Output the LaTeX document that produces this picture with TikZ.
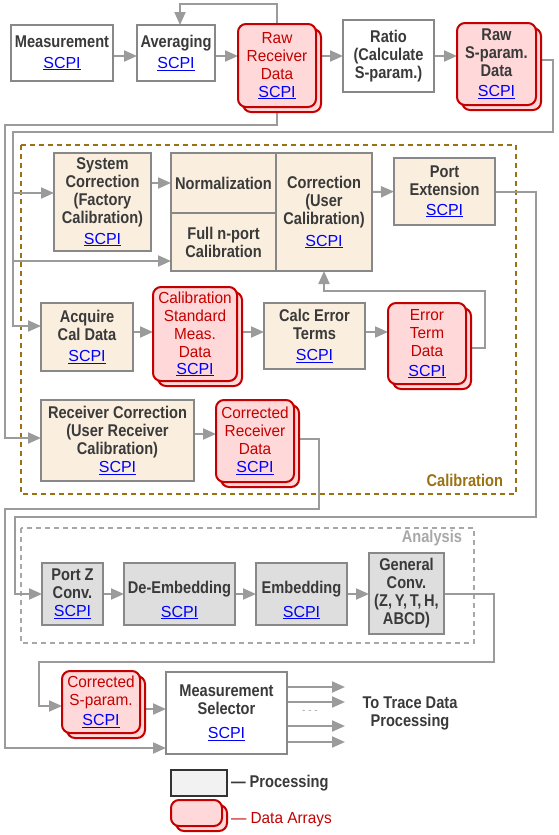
\documentclass[tikz,border=0pt]{standalone}
\usepackage{fontspec}
\setmainfont{Liberation Sans}
\newfontfamily\cnd{Liberation Sans}[FakeStretch=0.86]
\newfontfamily\cnr{Liberation Sans}[FakeStretch=0.96]
\usetikzlibrary{arrows.meta,shadows,backgrounds}
\definecolor{boxgray}{HTML}{888888}
\definecolor{arrgray}{HTML}{9B9B9B}
\definecolor{txtdark}{HTML}{3A3A3A}
\definecolor{datared}{HTML}{C40000}
\definecolor{pinkfill}{HTML}{FFD9D9}
\definecolor{beigefill}{HTML}{FAEFDF}
\definecolor{grayfill}{HTML}{DEDEDE}
\definecolor{legfill}{HTML}{F2F2F2}
\definecolor{legdark}{HTML}{333333}
\definecolor{calolive}{HTML}{9A7212}
\definecolor{anagray}{HTML}{A8A8A8}
\definecolor{linkblue}{HTML}{0000FF}
\newcommand\bfnt{\cnd\bfseries\fontsize{17}{18}\selectfont}
\newcommand\regf{\cnr\fontsize{16}{18}\selectfont}
\newcommand\myscpi{{\normalfont\fontsize{16}{18}\selectfont\color{linkblue}\setbox0\hbox{SCPI}\rlap{\rule[-2pt]{\wd0}{1.1pt}}\box0}}
\tikzset{
  every node/.style={inner sep=0pt,outer sep=0pt},
  sz/.style 2 args={minimum width=#1pt,minimum height=#2pt},
  proc/.style={draw=boxgray,line width=2pt,align=center,text=txtdark,font=\bfnt},
  procw/.style={proc,fill=white},
  procb/.style={proc,fill=beigefill},
  procg/.style={proc,fill=grayfill},
  data/.style={draw=datared,line width=2pt,fill=pinkfill,rounded corners=8pt,align=center,text=datared,font=\regf,
    copy shadow={shadow xshift=5pt,shadow yshift=-5pt,draw=datared,fill=pinkfill,line width=2pt}},
  arr/.style={draw=arrgray,line width=2pt,-{Triangle[length=13pt,width=11pt]}},
  calframe/.style={draw=calolive,line width=2pt,dash pattern=on 5pt off 4pt},
  anaframe/.style={draw=anagray,line width=2pt,dash pattern=on 5pt off 4pt},
}
\begin{document}
\begin{tikzpicture}[x=1pt,y=-1pt]
\useasboundingbox (0,0) rectangle (559,835);
% nodes
\node[procw,sz={102}{56}] (meas) at (62,53) {Measurement\\[3pt]\myscpi};
\node[procw,sz={78}{56}] (avg) at (176,53) {Averaging\\[3pt]\myscpi};
\node[data,sz={78}{83}] (rawrx) at (277,65.5) {Raw\\Receiver\\Data\\\myscpi};
\node[procw,sz={91}{72}] (ratio) at (388.5,56) {Ratio\\(Calculate\\S-param.)};
\node[data,sz={79}{82},font=\bfnt,text=txtdark] (rawsp) at (496.5,64) {Raw\\S-param.\\Data\\[2pt]\myscpi};
\node[procb,sz={97}{98}] (syscorr) at (102.5,202) {System\\Correction\\(Factory\\Calibration)\\[3pt]\myscpi};
\node[procb,sz={105}{60}] (norm) at (223.5,183) {Normalization};
\node[procb,sz={105}{58}] (fullcal) at (223.5,242) {Full n-port\\Calibration};
\node[procb,sz={96}{118}] (usercorr) at (324,212) {Correction\\(User\\Calibration)\\[4pt]\myscpi};
\node[procb,sz={101}{67}] (portext) at (444.5,191.5) {Port\\Extension\\[2pt]\myscpi};
\node[procb,sz={92}{68}] (acq) at (87,337) {Acquire\\Cal Data\\[3pt]\myscpi};
\node[data,sz={84}{94}] (calstd) at (195,334) {Calibration\\Standard\\Meas.\\Data\\[-1pt]\myscpi};
\node[procb,sz={101}{66}] (calcerr) at (314.5,336) {Calc Error\\Terms\\[3pt]\myscpi};
\node[data,sz={78}{81}] (errterm) at (427,343.5) {Error\\Term\\Data\\[2pt]\myscpi};
\node[procb,sz={153}{81}] (rxcorr) at (117.5,440.5) {Receiver Correction\\(User Receiver\\Calibration)\\\myscpi};
\node[data,sz={78}{82}] (corrrx) at (255,441) {Corrected\\Receiver\\Data\\\myscpi};
\node[procg,sz={61}{62}] (portz) at (72.5,594) {Port Z\\Conv.\\\myscpi};
\node[procg,sz={111}{62}] (deemb) at (179.5,594) {\rule{0pt}{24pt}De-Embedding\\[6pt]\myscpi};
\node[procg,sz={91}{62}] (emb) at (301.5,594) {\rule{0pt}{24pt}Embedding\\[6pt]\myscpi};
\node[procg,sz={75}{81}] (genconv) at (406.5,593.5) {General\\Conv.\\(Z,\,Y,\,T,\,H,\\ABCD)};
\node[data,sz={78}{62}] (corrsp) at (101,702) {Corrected\\S-param.\\[2pt]\myscpi};
\node[procw,sz={121}{82}] (msel) at (226.5,713) {Measurement\\Selector\\[6pt]\myscpi};
% labels
\node[font=\bfnt,text=txtdark,align=center] (totrace) at (410,713) {To Trace Data\\Processing};
\node[font=\bfnt,text=calolive,anchor=east] (callabel) at (503,480) {Calibration};
\node[font=\bfnt,text=anagray,anchor=east] (analabel) at (462,538) {Analysis};
\node[font=\fontsize{10}{10}\selectfont,text=arrgray] (dots) at (310,712) {- - -};
% legend
\node[draw=legdark,line width=2pt,fill=legfill,sz={56}{26}] (legproc) at (199,783) {};
\node[data,sz={51}{26}] (legdata) at (196.5,813) {};
\node[anchor=west,font=\bfnt,text=txtdark] (legproct) at (231,783) {— Processing};
\node[anchor=west,font=\regf,text=datared] (legdatat) at (231,820) {— Data Arrays};
% free ends
\coordinate (j1) at (13,193);
\coordinate (j2) at (13,261);
\coordinate (o1) at (345,687);
\coordinate (o2) at (345,702);
\coordinate (o3) at (345,726);
\coordinate (o4) at (345,742);
\begin{scope}[on background layer]
\draw[calframe] (21,145) rectangle (516,494);
\draw[anaframe] (21,528) rectangle (474,643);
% row 1
\draw[arr] ([yshift=-3pt]meas.east) -- ([yshift=-3pt]avg.west);
\draw[arr] ([yshift=-3pt]avg.east) -- ([yshift=9.5pt]rawrx.west);
\draw[arr] ([yshift=9.5pt]rawrx.east) -- (ratio.west);
\draw[arr] (ratio.east) -- ([yshift=8pt]rawsp.west);
\draw[arr] (rawrx.north) |- (180,4) -- ([xshift=4pt]avg.north);
% buses
\draw[arr] (rawrx.south) |- (5,125) |- ([yshift=2.5pt]rxcorr.west);
\draw[arr] ([yshift=4pt]rawsp.east) -| (553,132) -| (13,326) -- ([yshift=11pt]acq.west);
\draw[arr] (j1) -- ([yshift=9pt]syscorr.west);
\draw[arr] (j2) -- ([yshift=-19pt]fullcal.west);
% calibration
\draw[arr] ([yshift=19pt]syscorr.east) -- (norm.west);
\draw[arr] ([yshift=20pt]usercorr.east) -- (portext.west);
\draw[arr] ([yshift=5pt]acq.east) -- ([yshift=2pt]calstd.west);
\draw[arr] ([yshift=2pt]calstd.east) -- ([yshift=4pt]calcerr.west);
\draw[arr] ([yshift=4pt]calcerr.east) -- ([yshift=11.5pt]errterm.west);
\draw[arr] ([yshift=-4.5pt]errterm.east) -| (485,291) -| (usercorr.south);
\draw[arr] ([yshift=6.5pt]rxcorr.east) -- ([yshift=7pt]corrrx.west);
\draw[arr] ([yshift=2pt]corrrx.east) -| (319,509) -| (5,748) -- ([yshift=-35pt]msel.west);
\draw[arr] (portext.east) -| (536,517) -| (15,594) -- (portz.west);
% analysis
\draw[arr] (portz.east) -- (deemb.west);
\draw[arr] (deemb.east) -- (emb.west);
\draw[arr] (emb.east) -- ([yshift=-0.5pt]genconv.west);
\draw[arr] ([yshift=-0.5pt]genconv.east) -| (494,662) -| (39,706) -- ([yshift=-4pt]corrsp.west);
\draw[arr] ([yshift=-7pt]corrsp.east) -- ([yshift=4pt]msel.west);
% outputs
\draw[arr] ([yshift=26pt]msel.east) -- (o1);
\draw[arr] ([yshift=11pt]msel.east) -- (o2);
\draw[arr] ([yshift=-13pt]msel.east) -- (o3);
\draw[arr] ([yshift=-29pt]msel.east) -- (o4);
\end{scope}
\end{tikzpicture}
\end{document}
